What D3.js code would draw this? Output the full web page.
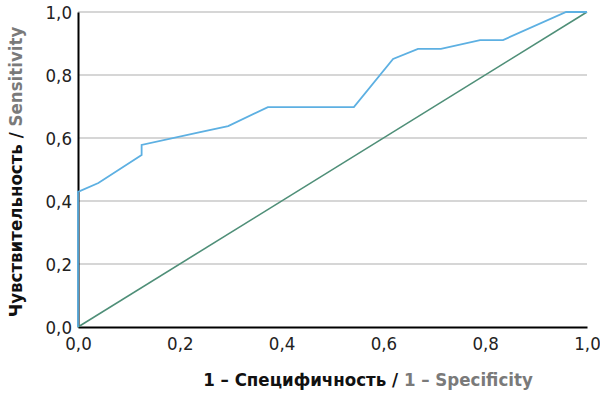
<!DOCTYPE html>
<html>
<head>
<meta charset="utf-8">
<script src="https://cdn.jsdelivr.net/npm/d3@7"></script>
<style>
  body { margin: 0; background: #fff; }
  svg text { font-family: "Liberation Sans Narrow", "DejaVu Sans Condensed", "DejaVu Sans", sans-serif; font-stretch: condensed; }
</style>
</head>
<body>
<svg id="canvas"></svg>
<script>
const width = 600;
const height = 395;
const margin = { top: 12, right: 13, bottom: 68, left: 78 };

// ROC curve
const fpr = [0, 0, 0.04, 0.125, 0.125, 0.24, 0.295, 0.373, 0.542, 0.619, 0.668, 0.713, 0.79, 0.835, 0.959, 1.0];
const tpr = [0, 0.429, 0.457, 0.546, 0.578, 0.619, 0.638, 0.698, 0.698, 0.851, 0.883, 0.883, 0.911, 0.911, 1.0, 1.0];
const diagX = [0, 1];
const diagY = [0, 1];
const ticks = [0, 0.2, 0.4, 0.6, 0.8, 1.0];

const canvas = d3.select('#canvas').attr('width', width).attr('height', height);

const xScale = d3.scaleLinear().domain([0, 1]).range([margin.left, width - margin.right]);
const yScale = d3.scaleLinear().domain([0, 1]).range([height - margin.bottom, margin.top]);
const fmt = (d) => d3.format('.1f')(d).replace('.', ',');

// gridlines
canvas.append('g')
  .selectAll('line')
  .data(ticks.filter((d) => d > 0))
  .enter()
  .append('line')
  .attr('x1', xScale(0))
  .attr('x2', xScale(1))
  .attr('y1', (d) => yScale(d))
  .attr('y2', (d) => yScale(d))
  .attr('stroke', '#c8c8c8')
  .attr('stroke-width', 1.5);

const xAxis = d3.axisBottom(xScale).tickValues(ticks).tickFormat(fmt).tickSize(0).tickPadding(10);
const yAxis = d3.axisLeft(yScale).tickValues(ticks).tickFormat(fmt).tickSize(0).tickPadding(6);

const gx = canvas.append('g')
  .attr('transform', `translate(0, ${yScale(0)})`)
  .call(xAxis);
const gy = canvas.append('g')
  .attr('transform', `translate(${xScale(0)}, 0)`)
  .call(yAxis);

[gx, gy].forEach((g) => {
  g.select('.domain').attr('stroke', '#000').attr('stroke-width', 2);
  g.selectAll('text')
    .attr('fill', '#222')
    .attr('font-family', null)
    .attr('font-size', null)
    .style('font-size', '18.5px');
});
gy.selectAll('text').attr('dy', '0.36em');

const line = d3.line().x((d) => xScale(d[0])).y((d) => yScale(d[1]));

// reference diagonal
canvas.append('path')
  .datum(diagX.map((x, i) => [x, diagY[i]]))
  .attr('d', line)
  .attr('fill', 'none')
  .attr('stroke', '#4f8f78')
  .attr('stroke-width', 1.6);

// ROC curve
canvas.append('path')
  .datum(fpr.map((x, i) => [x, tpr[i]]))
  .attr('d', line)
  .attr('fill', 'none')
  .attr('stroke', '#5db0e2')
  .attr('stroke-width', 1.8);

// axis titles
const xTitle = canvas.append('text')
  .attr('x', 368)
  .attr('y', 386)
  .attr('text-anchor', 'middle')
  .style('font-size', '18.5px')
  .style('font-weight', 'bold');
xTitle.append('tspan').attr('fill', '#111').text('1 – Специфичность / ');
xTitle.append('tspan').attr('fill', '#7a7a7a').text('1 – Specificity');

const yTitle = canvas.append('text')
  .attr('transform', 'translate(22, 172) rotate(-90)')
  .attr('text-anchor', 'middle')
  .style('font-size', '18.5px')
  .style('font-weight', 'bold');
yTitle.append('tspan').attr('fill', '#111').text('Чувствительность / ');
yTitle.append('tspan').attr('fill', '#7a7a7a').text('Sensitivity');
</script>
</body>
</html>
